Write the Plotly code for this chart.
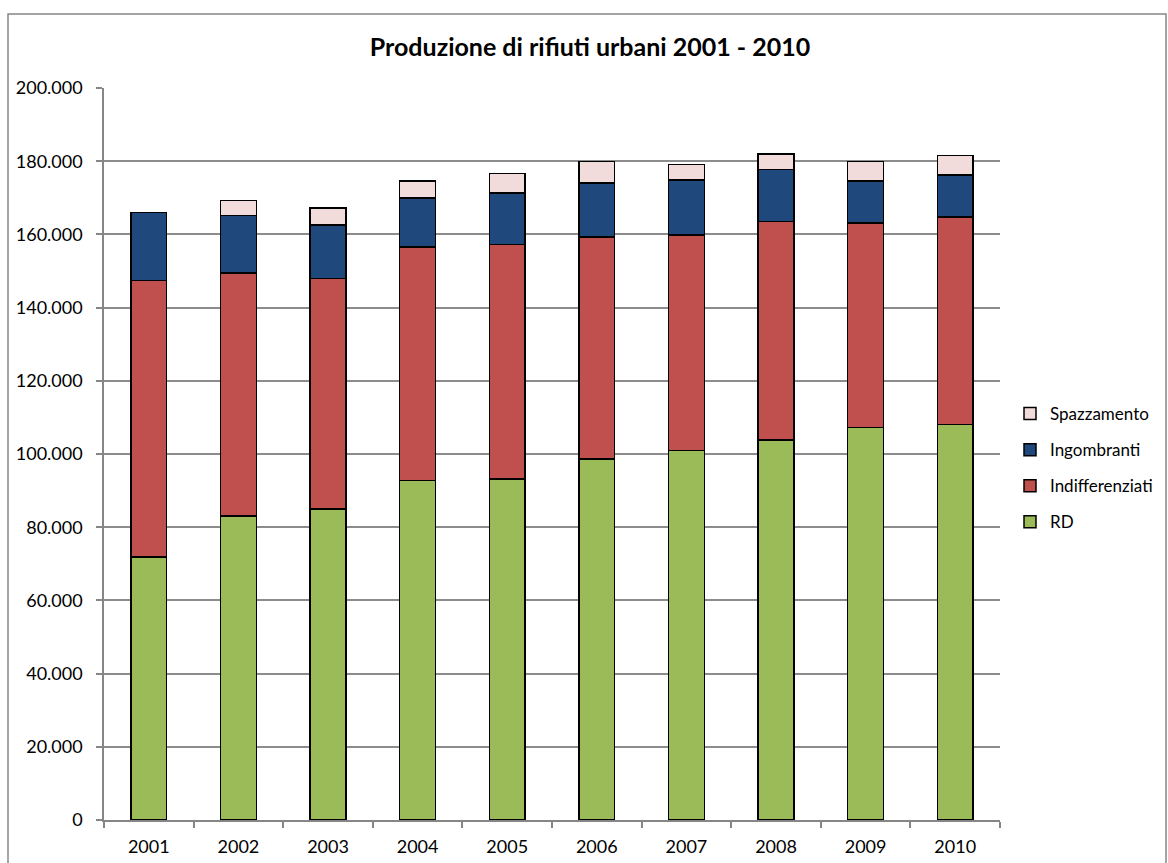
import plotly.graph_objects as go

years = ["2001", "2002", "2003", "2004", "2005", "2006", "2007", "2008", "2009", "2010"]
rd = [71900, 83000, 85000, 92800, 93200, 98600, 101000, 103800, 107200, 108100]
indifferenziati = [75500, 66500, 62900, 63700, 64100, 60700, 58800, 59700, 55900, 56700]
ingombranti = [18600, 15600, 14700, 13500, 14000, 14800, 15100, 14300, 11500, 11400]
spazzamento = [0, 4100, 4600, 4600, 5300, 5800, 4200, 4200, 5300, 5300]

series = [
    ("RD", rd, "#9BBB59"),
    ("Indifferenziati", indifferenziati, "#C0504D"),
    ("Ingombranti", ingombranti, "#1F497D"),
    ("Spazzamento", spazzamento, "#F2DCDB"),
]

FONT = "Lato, Carlito, Calibri, sans-serif"

fig = go.Figure()
for i, (name, vals, color) in enumerate(series):
    fig.add_trace(go.Bar(
        x=years, y=vals, name=name, legendgroup=name,
        legendrank=100 - i,
        marker=dict(color=color, line=dict(color="#000000", width=1.5)),
    ))

# paper spans x 104..1168, plot area x 104..1000, y 88..820 px
L, R, T, B = 104, 0, 88, 43
W, H = 1168, 863
pw = W - L - R
ph = H - T - B
PLOT_RIGHT = 1000

def px_x(x):
    return (x - L) / pw

def px_y(y):
    return (H - B - y) / ph

fig.update_layout(
    width=W, height=H,
    margin=dict(l=L, r=R, t=T, b=B, pad=0),
    paper_bgcolor="white", plot_bgcolor="white",
    barmode="stack", bargap=0.6,
    separators=",.",
    font=dict(family=FONT, size=18, color="#000000"),
    title=dict(text="<b>Produzione di rifiuti urbani 2001 - 2010</b>",
               font=dict(family=FONT, size=25, color="#000000"),
               x=px_x(590), xref="paper", xanchor="center",
               y=1 - 47 / H, yanchor="middle"),
    xaxis=dict(type="category", domain=[0, px_x(PLOT_RIGHT)], automargin=False,
               showgrid=False, showline=True,
               linecolor="#868686", linewidth=1.5,
               ticks="outside", tickson="boundaries", ticklen=6,
               tickcolor="#868686", tickwidth=1.5, ticklabelstandoff=10,
               tickfont=dict(family=FONT, size=18)),
    yaxis=dict(range=[0, 200000], dtick=20000, tickformat=",d", automargin=False,
               showgrid=True, gridcolor="#8c8c8c", gridwidth=1.5,
               showline=True, linecolor="#868686", linewidth=1.5,
               ticks="outside", ticklen=6, tickcolor="#868686", tickwidth=1.5,
               ticklabelstandoff=10,
               zeroline=False, tickfont=dict(family=FONT, size=18)),
    legend=dict(traceorder="grouped", tracegroupgap=11, itemwidth=30,
                x=px_x(1010), y=px_y(396), xanchor="left", yanchor="top",
                font=dict(family=FONT, size=17), bgcolor="rgba(0,0,0,0)"),
    showlegend=True,
)

# outer chart frame
fig.add_shape(type="rect", xref="paper", yref="paper",
              x0=px_x(8), x1=px_x(1166), y0=px_y(880), y1=px_y(14),
              line=dict(color="#868686", width=1.5), fillcolor="rgba(0,0,0,0)",
              layer="below")

fig.write_html("out.html")
